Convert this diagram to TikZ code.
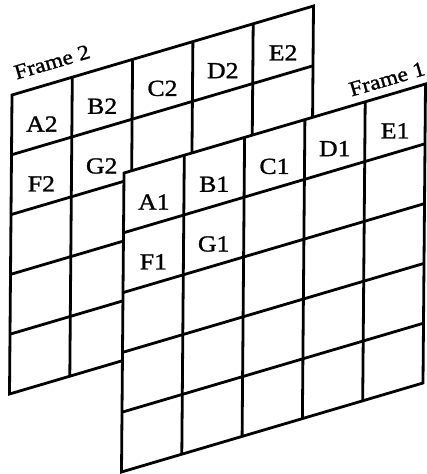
\documentclass[tikz,border=0pt]{standalone}
\usepackage{fontspec}
\setmainfont[FakeStretch=1.12, FakeBold=1.2]{Liberation Serif}
\tikzset{
  gridline/.style={line width=2.8pt, line join=miter},
  lbl/.style={font=\fontsize{23}{23}\selectfont, inner sep=0pt, yshift=-8pt},
  framelbl/.style={font=\fontsize{21}{21}\selectfont, inner sep=0pt, rotate=16.4}
}
\begin{document}
\begin{tikzpicture}[x=1pt,y=-1pt]
\useasboundingbox (0,0) rectangle (427,474);
% Frame 2 (behind)
\begin{scope}[shift={(12pt,-95pt)}, x={(60.3pt,17.8pt)}, y={(-0.5pt,-59.8pt)}]
  \draw[gridline, fill=white] (0,0) -- (5,0) -- (5,5) -- (0,5) -- cycle;
  \foreach \i in {1,...,4} \draw[gridline] (\i,0) -- (\i,5);
  \foreach \j in {1,...,4} \draw[gridline] (0,\j) -- (5,\j);
  \node[lbl] (A2) at (0.5,0.5) {A2};
  \node[lbl] (B2) at (1.5,0.5) {B2};
  \node[lbl] (C2) at (2.5,0.5) {C2};
  \node[lbl] (D2) at (3.5,0.5) {D2};
  \node[lbl] (E2) at (4.5,0.5) {E2};
  \node[lbl] (F2) at (0.5,1.5) {F2};
  \node[lbl] (G2) at (1.5,1.5) {G2};
\end{scope}
\node[framelbl] (frame2) at (52,62) {Frame 2};
% Frame 1 (front)
\begin{scope}[shift={(124pt,-173pt)}, x={(60.3pt,17.8pt)}, y={(-0.5pt,-59.8pt)}]
  \draw[gridline, fill=white] (0,0) -- (5,0) -- (5,5) -- (0,5) -- cycle;
  \foreach \i in {1,...,4} \draw[gridline] (\i,0) -- (\i,5);
  \foreach \j in {1,...,4} \draw[gridline] (0,\j) -- (5,\j);
  \node[lbl] (A1) at (0.5,0.5) {A1};
  \node[lbl] (B1) at (1.5,0.5) {B1};
  \node[lbl] (C1) at (2.5,0.5) {C1};
  \node[lbl] (D1) at (3.5,0.5) {D1};
  \node[lbl] (E1) at (4.5,0.5) {E1};
  \node[lbl] (F1) at (0.5,1.5) {F1};
  \node[lbl] (G1) at (1.5,1.5) {G1};
\end{scope}
\node[framelbl] (frame1) at (387,79) {Frame 1};
\end{tikzpicture}
\end{document}
